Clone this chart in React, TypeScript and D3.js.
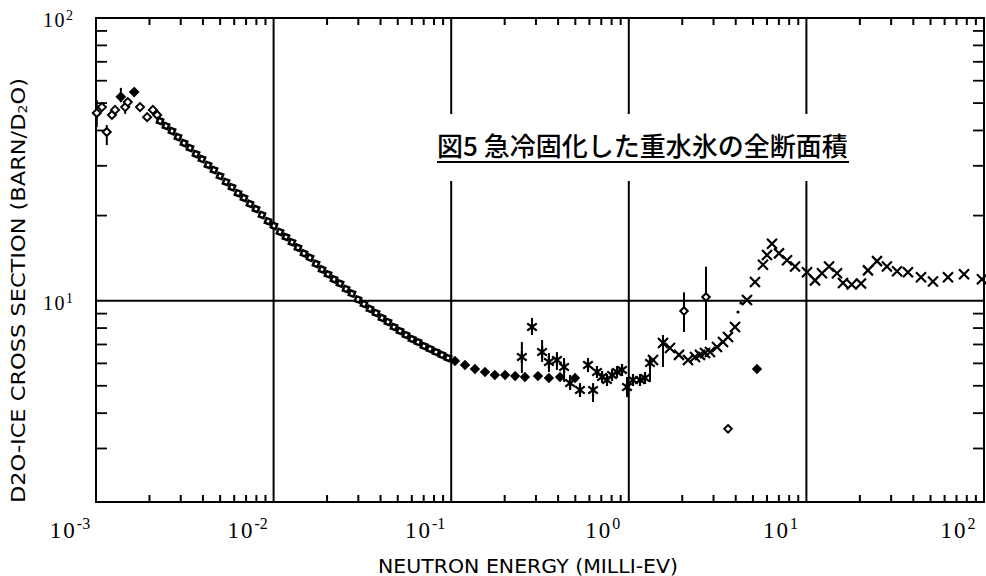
import React from "react";
import * as d3 from "d3";

// early points near 1e-3 meV (some with error bars)
const earlyE = [1.01e-3, 1.08e-3, 1.15e-3, 1.23e-3, 1.28e-3, 1.38e-3, 1.46e-3, 1.51e-3, 1.64e-3, 1.77e-3, 1.94e-3, 2.09e-3, 2.21e-3];
const earlyS = [46.1, 48.4, 39.5, 45.4, 47.3, 52.6, 48.4, 50.4, 54.7, 48.4, 44.6, 47.3, 45.4];
const earlyLo = [41.1, null, 35.5, null, null, 50.4, 45.8, null, null, null, null, null, null];
const earlyHi = [51.3, null, 41.8, null, null, 56.6, 51.3, null, null, null, null, null, null];
const earlyFilled = [false, false, false, false, false, true, false, false, true, false, false, false, false];

// dense 1/v branch (open squares)
const sqE = [2.293e-3, 2.478e-3, 2.678e-3, 2.894e-3, 3.129e-3, 3.382e-3, 3.656e-3, 3.952e-3, 4.272e-3, 4.617e-3,
  4.991e-3, 5.395e-3, 5.832e-3, 6.302e-3, 6.812e-3, 7.364e-3, 7.96e-3, 8.6e-3, 9.3e-3, 1.005e-2,
  1.086e-2, 1.174e-2, 1.269e-2, 1.372e-2, 1.483e-2, 1.603e-2, 1.733e-2, 1.873e-2, 2.025e-2, 2.188e-2,
  2.366e-2, 2.557e-2, 2.763e-2, 2.987e-2, 3.228e-2, 3.489e-2, 3.772e-2, 4.077e-2, 4.406e-2, 4.763e-2,
  5.148e-2, 5.565e-2, 6.015e-2, 6.502e-2, 7.027e-2, 7.596e-2, 8.21e-2, 8.875e-2, 9.59e-2];
const sqS = [43.2, 41.5, 39.8, 37.9, 36.1, 34.7, 33.0, 31.7, 30.2, 29.0,
  27.6, 26.3, 25.2, 24.0, 23.1, 22.0, 21.1, 20.1, 19.1, 18.4,
  17.5, 16.8, 16.1, 15.4, 14.7, 14.2, 13.5, 12.9, 12.4, 11.9,
  11.5, 11.0, 10.6, 10.1, 9.73, 9.35, 9.05, 8.69, 8.41, 8.07,
  7.81, 7.56, 7.32, 7.14, 6.91, 6.75, 6.58, 6.43, 6.27];

// filled diamonds above 0.1 meV
const diaE = [0.105, 0.1196, 0.136, 0.155, 0.176, 0.201, 0.229, 0.26, 0.308, 0.355, 0.41, 0.498];
const diaS = [6.12, 5.92, 5.73, 5.59, 5.46, 5.46, 5.41, 5.37, 5.41, 5.33, 5.37, 5.33];

// asterisks with error bars
const starE = [0.25, 0.285, 0.325, 0.355, 0.394, 0.432, 0.467, 0.531, 0.589, 0.629, 0.662, 0.707, 0.754, 0.805, 0.858, 0.916, 0.977, 1.056, 1.156, 1.234, 1.316];
const starS = [6.32, 8.07, 6.58, 6.07, 6.17, 5.83, 5.11, 4.83, 5.92, 4.83, 5.59, 5.37, 5.24, 5.46, 5.59, 5.69, 4.95, 5.24, 5.24, 5.33, 6.02];
const starLo = [5.55, 7.56, 6.07, 5.59, 5.69, 5.16, 4.83, 4.56, 5.59, 4.38, null, null, null, null, null, null, 4.56, null, null, null, 5.16];
const starHi = [7.14, 8.69, 7.26, 6.53, 6.58, 6.27, 5.46, 5.11, 6.27, 5.11, null, null, null, null, null, null, 5.37, null, null, null, 6.17];

// crosses
const crossE = [1.369, 1.558, 1.706, 1.917, 2.154, 2.359, 2.517, 2.686, 2.865, 3.138, 3.392, 3.62, 3.963, 4.629,
  5.134, 5.695, 6.0, 6.4, 7.01, 7.78, 8.63, 10.08, 11.18, 12.24, 13.41, 14.87, 16.07, 18.0, 20.3,
  22.2, 24.97, 28.4, 32.4, 37.3, 44.2, 51.6, 62.7, 77.2, 97.4];
const crossS = [6.17, 7.08, 6.8, 6.43, 6.17, 6.32, 6.43, 6.53, 6.58, 6.86, 7.14, 7.44, 8.07, 10.06,
  11.65, 13.4, 14.5, 15.9, 14.7, 13.9, 13.2, 12.6, 11.8, 12.5, 13.2, 12.5, 11.55, 11.4, 11.5,
  12.8, 13.8, 13.2, 12.7, 12.6, 12.1, 11.7, 12.1, 12.4, 11.9];
const crossLo = [null, 5.83];
const crossHi = [null, 7.56];

// small dots
const dotE = [4.12, 4.28];
const dotS = [9.12, 9.81];

// isolated open diamonds
const odE = [2.046, 2.72, 3.62, 5.27];
const odS = [9.19, 10.3, 3.52, 5.73];
const odLo = [7.75, 7.26, null, null];
const odHi = [10.7, 13.2, null, null];
const odFilled = [false, false, false, true];

const xMajor = [1e-3, 1e-2, 1e-1, 1e0, 1e1, 1e2];
const xExp = ["-3", "-2", "-1", "0", "1", "2"];
const xGrid = [1e-2, 1e-1, 1e0, 1e1];
const yMajor = [100, 10];
const yExp = ["2", "1"];
const yGrid = [10];

const title = "図5 急冷固化した重水氷の全断面積";
const xTitle = "NEUTRON ENERGY (MILLI-EV)";

const W = 986;
const H = 576;
const L = 96, R = 984, T = 18, B = 502;

const x = d3.scaleLog().domain([1e-3, 1e2]).range([L, R]);
const y = d3.scaleLog().domain([1.94, 100]).range([B, T]);

const Diamond = ({ cx, cy, r, filled }) => (
  <path
    d={`M${cx},${cy - r}L${cx + r},${cy}L${cx},${cy + r}L${cx - r},${cy}Z`}
    fill={filled ? "black" : "white"}
    stroke="black"
    strokeWidth={2}
  />
);

const Cross = ({ cx, cy, r }) => (
  <path d={`M${cx - r},${cy - r}L${cx + r},${cy + r}M${cx - r},${cy + r}L${cx + r},${cy - r}`} stroke="black" strokeWidth={2.2} fill="none" />
);

const Star = ({ cx, cy, r }) => (
  <path
    d={`M${cx - r * 0.8},${cy - r * 0.6}L${cx + r * 0.8},${cy + r * 0.6}M${cx - r * 0.8},${cy + r * 0.6}L${cx + r * 0.8},${cy - r * 0.6}M${cx},${cy - r}L${cx},${cy + r}`}
    stroke="black"
    strokeWidth={2.2}
    fill="none"
  />
);

const ErrBar = ({ e, lo, hi }) =>
  lo == null ? null : <line x1={x(e)} x2={x(e)} y1={y(lo)} y2={y(hi)} stroke="black" strokeWidth={2} />;

const App = () => {
  const xMinor = x.ticks().filter((v) => !xMajor.some((m) => Math.abs(v / m - 1) < 1e-6));
  const yMinor = y.ticks().filter((v) => v >= 2.5 && v !== 10 && v !== 100);

  return (
    <div style={{ position: "absolute", left: 0, top: 0 }}>
      <svg width={W} height={H} style={{ display: "block", background: "white" }}>
        {/* grid */}
        {xGrid.map((v) => (
          <line key={"gx" + v} x1={x(v)} x2={x(v)} y1={T} y2={B} stroke="black" strokeWidth={2} />
        ))}
        {yGrid.map((v) => (
          <line key={"gy" + v} x1={L} x2={R} y1={y(v)} y2={y(v)} stroke="black" strokeWidth={2} />
        ))}

        {/* minor ticks */}
        {xMinor.map((v, i) => (
          <g key={"xt" + i}>
            <line x1={x(v)} x2={x(v)} y1={B} y2={B - 7} stroke="black" strokeWidth={2} />
            <line x1={x(v)} x2={x(v)} y1={T} y2={T + 7} stroke="black" strokeWidth={2} />
          </g>
        ))}
        {yMinor.map((v, i) => (
          <g key={"yt" + i}>
            <line x1={L} x2={L + 11} y1={y(v)} y2={y(v)} stroke="black" strokeWidth={1.8} />
            <line x1={R} x2={R - 11} y1={y(v)} y2={y(v)} stroke="black" strokeWidth={1.8} />
          </g>
        ))}

        {/* title box */}
        <rect x={432} y={114} width={428} height={67} fill="white" />
        <text x={437} y={156} fontFamily="'Noto Sans CJK JP'" fontWeight={500} fontSize={26} fill="black">
          {title}
        </text>
        <line x1={437} x2={849} y1={162} y2={162} stroke="black" strokeWidth={2} />

        {/* frame */}
        <rect x={L} y={T} width={R - L} height={B - T} fill="none" stroke="black" strokeWidth={2} />

        {/* data */}
        {earlyE.map((e, i) => (
          <g key={"ea" + i}>
            <ErrBar e={e} lo={earlyLo[i]} hi={earlyHi[i]} />
            <Diamond cx={x(e)} cy={y(earlyS[i])} r={4} filled={earlyFilled[i]} />
          </g>
        ))}
        {sqE.map((e, i) => (
          <rect
            key={"sq" + i}
            x={x(e) - 2.5}
            y={y(sqS[i]) - 2.5}
            width={5}
            height={5}
            fill="white"
            stroke="black"
            strokeWidth={2.5}
            transform={`rotate(20 ${x(e)} ${y(sqS[i])})`}
          />
        ))}
        {diaE.map((e, i) => (
          <Diamond key={"di" + i} cx={x(e)} cy={y(diaS[i])} r={3.8} filled />
        ))}
        {starE.map((e, i) => (
          <g key={"st" + i}>
            <ErrBar e={e} lo={starLo[i]} hi={starHi[i]} />
            <Star cx={x(e)} cy={y(starS[i])} r={6} />
          </g>
        ))}
        {crossE.map((e, i) => (
          <g key={"cr" + i}>
            <ErrBar e={e} lo={crossLo[i]} hi={crossHi[i]} />
            <Cross cx={x(e)} cy={y(crossS[i])} r={5} />
          </g>
        ))}
        {dotE.map((e, i) => (
          <circle key={"dt" + i} cx={x(e)} cy={y(dotS[i])} r={1.6} fill="black" />
        ))}
        {odE.map((e, i) => (
          <g key={"od" + i}>
            <ErrBar e={e} lo={odLo[i]} hi={odHi[i]} />
            <Diamond cx={x(e)} cy={y(odS[i])} r={3.8} filled={odFilled[i]} />
          </g>
        ))}

        {/* x tick labels */}
        {xMajor.map((v, i) => (
          <text key={"xl" + i} x={x(v) - 26} y={538} textAnchor="middle" fontFamily="'Liberation Serif'" fontSize={23} letterSpacing={2} fill="black">
            10
            <tspan dy={-9} fontSize={16} letterSpacing={0}>
              {xExp[i]}
            </tspan>
          </text>
        ))}

        {/* y tick labels */}
        {yMajor.map((v, i) => (
          <text key={"yl" + i} x={43} y={y(v) + 9} fontFamily="'Liberation Serif'" fontSize={20} letterSpacing={1.5} fill="black">
            10
            <tspan dy={-7} fontSize={14} letterSpacing={0}>
              {yExp[i]}
            </tspan>
          </text>
        ))}

        {/* axis titles */}
        <text x={378} y={573} textLength={300} lengthAdjust="spacingAndGlyphs" fontFamily="'DejaVu Sans'" fontSize={19} fill="black">
          {xTitle}
        </text>
        <text
          transform="translate(25,503) rotate(-90)"
          x={0}
          y={0}
          textLength={425}
          lengthAdjust="spacingAndGlyphs"
          fontFamily="'DejaVu Sans'"
          fontSize={19}
          fill="black"
        >
          D2O-ICE CROSS SECTION (BARN/D<tspan fontSize={12} dy={2}>2</tspan>
          <tspan dy={-2}>O)</tspan>
        </text>
      </svg>
    </div>
  );
};

export default App;
